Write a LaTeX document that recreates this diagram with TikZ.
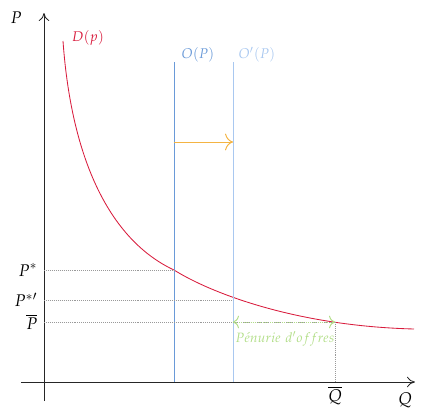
\documentclass[tikz,border=0pt]{standalone}
\usepackage{amsmath}
\usepackage{mathpazo}
\usepackage{xcolor}
\usepackage{tikz}
\usetikzlibrary{arrows.meta,positioning}
\definecolor{demred}{HTML}{D81B3C}
\definecolor{offblue}{HTML}{6A9AD8}
\definecolor{offlight}{HTML}{A9C8F0}
\definecolor{shiftorange}{HTML}{F4B443}
\definecolor{gapgreen}{HTML}{B2DE88}
\tikzset{
  axisline/.style={->, >={To[length=2mm,width=2.6mm]}, line width=0.6pt, draw=black!85},
  supplyline/.style={line width=0.6pt, draw=offblue},
  supplynew/.style={line width=0.6pt, draw=offlight},
  guideline/.style={densely dotted, draw=black!40},
  shiftarrow/.style={-{To[length=2mm]}, line width=0.7pt, draw=shiftorange},
  gaparrow/.style={{To[length=1.5mm]}-{To[length=1.5mm]}, densely dotted, line width=0.7pt, draw=gapgreen},
  ticklabel/.style={font=\large, inner sep=1pt},
  curvelabel/.style={font=\normalsize, inner sep=1pt}
}
\begin{document}
\begin{tikzpicture}[x=0.025cm, y=0.025cm]
\useasboundingbox (-44,-35) rectangle (379,382);
% axes
\coordinate (xstart) at (-23,0);
\coordinate (xend) at (371,0);
\coordinate (ybot) at (0,-19);
\coordinate (ytop) at (0,369);
\draw[axisline] (xstart) -- (xend);
\draw[axisline] (ybot) -- (ytop);
\node[ticklabel] (qlab) at (361,-18) {$Q$};
\node[ticklabel] (plab) at (-28,364) {$P$};
% equilibrium points
\coordinate (eqold) at (130,112);
\coordinate (eqcap) at (291,60);
% demand
\coordinate (dtop) at (19,341);
\coordinate (dend) at (370,53);
\draw[demred, line width=0.6pt] (dtop) .. controls (28,215) and (70,140) .. (eqold)
  .. controls (165,90) and (250,56) .. (dend);
\node[curvelabel, text=demred] (dlab) at (44,344) {$D(p)$};
% supply
\coordinate (otop) at (130,320);
\coordinate (obot) at (130,0);
\coordinate (ontop) at (189,320);
\coordinate (onbot) at (189,0);
\draw[supplyline] (otop) -- (obot);
\draw[supplynew] (ontop) -- (onbot);
\node[curvelabel, text=offblue] (olab) at (154,327) {$O(P)$};
\node[curvelabel, text=offlight] (onlab) at (213,327) {$O'(P)$};
\draw[shiftarrow] (130,240) coordinate (sfrom) -- (189,240) coordinate (sto);
% price levels
\node[ticklabel, anchor=east] (pstar) at (-5,112) {$P^{*}$};
\node[ticklabel, anchor=east] (pstarp) at (-5,82) {$P^{*\prime}$};
\node[ticklabel, anchor=east] (pbar) at (-5,60) {$\overline{P}$};
\draw[guideline] (0,112) -- (eqold);
\draw[guideline] (0,82) -- (189,82);
\draw[guideline] (0,60) -- (eqcap);
\draw[guideline] (eqcap) -- (291,0);
\node[ticklabel] (qbar) at (291,-14) {$\overline{Q}$};
% shortage
\coordinate (gapleft) at (189,60);
\draw[gaparrow] (gapleft) -- (eqcap);
\node[text=gapgreen, inner sep=0pt, anchor=north, font=\fontsize{9.6}{11}\selectfont] (gaplab) at (241,51) {$P\acute{e}nurie\ d'offres$};
\end{tikzpicture}
\end{document}
